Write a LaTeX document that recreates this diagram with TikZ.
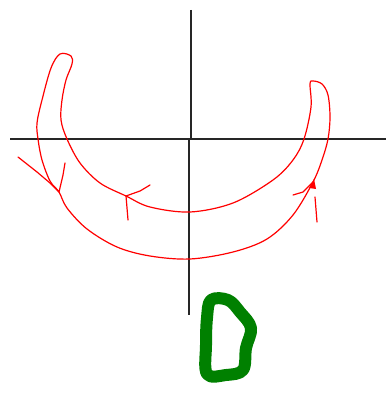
\documentclass[tikz,border=0pt]{standalone}
\begin{document}
\begin{tikzpicture}[x=1pt, y=-1pt]
  \tikzset{axisline/.style={black!85, line width=2pt},
           sketch/.style={red, line width=1.2pt, line join=round, line cap=round},
           digit/.style={green!50!black, line width=12pt, line join=round}}
  \useasboundingbox (0,0) rectangle (386,395);
  % ---- axes ----
  \draw[axisline] (10,139) -- (386,139);
  \draw[axisline] (191,10) -- (191,139);
  \draw[axisline] (189,139) -- (189,315);
  % ---- crescent, traced from the left horn, outer edge first ----
  \draw[sketch] plot[smooth cycle, tension=0.55] coordinates {
    (60,54) (51,68) (42,100) (37,123) (38,139) (42,160) (50,181) (59,192)
    (67,208) (87,229) (117,247) (150,256) (190,259) (233,252) (267,239) (293,215)
    (313,182) (322,160) (328,139) (330,117) (328,95) (322,84) (313,81) (310,84)
    (311,107) (304,139) (293,160) (273,180) (233,203) (190,212) (150,207) (126,196)
    (100,183) (80,163) (67,139) (61,120) (62,100) (66,80) (72,64) (71,56)};
  % ---- arrow tips along the flow ----
  \coordinate (tipL) at (59,192);
  \coordinate (tipM) at (126,196);
  \coordinate (tipR) at (313,182);
  \draw[sketch] (18,157) -- (37,172) -- (50,183) -- (tipL) -- (63,175) -- (65,163);
  \draw[sketch] (150,185) -- (140,191) -- (tipM) -- (127,208) -- (128,220);
  \draw[sketch] (293,195) -- (303,192) -- (tipR);
  \draw[sketch] (315,197) -- (317,222);
  \fill[red] (tipR) ++(1,-3) -- ++(-5,9) -- ++(7,1) -- cycle;
  % ---- the digit ----
  \draw[digit] plot[smooth cycle, tension=0.6] coordinates {
    (211,300) (228,300) (240,312) (251,328) (246,348) (243,370) (226,375)
    (207,374) (206,345) (207,318)};
\end{tikzpicture}
\end{document}
